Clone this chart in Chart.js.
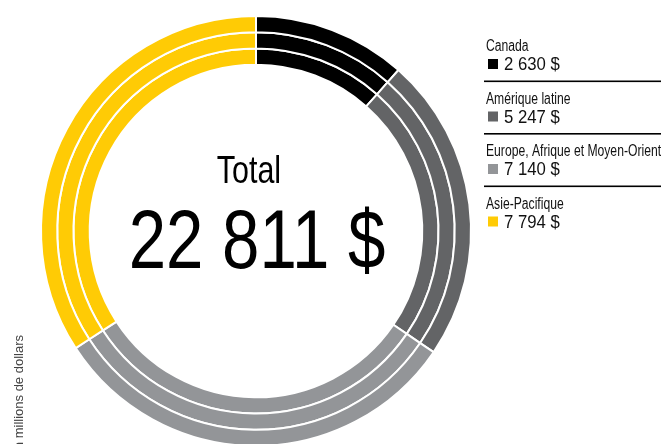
<!DOCTYPE html>
<html lang="fr">
<head>
    <meta charset="UTF-8">
    <title>Total par région</title>
    <script src="https://cdn.jsdelivr.net/npm/chart.js@4.4.1/dist/chart.umd.min.js"></script>
    <style>
        html, body { margin: 0; padding: 0; background: #fff; }
        #regionChart { display: block; }
    </style>
</head>
<body>
<canvas id="regionChart" width="661" height="444"></canvas>
<script>
    // données (en millions de dollars)
    var regions = ['Canada', 'Amérique latine', 'Europe, Afrique et Moyen-Orient', 'Asie-Pacifique'];
    var revenue = [2630, 5247, 7140, 7794];
    var totalLabel = 'Total';
    var unitNote = 'en millions de dollars';

    var sliceColors = ['#000000', '#636466', '#939598', '#ffcb05'];

    function fmt(n) {
        return String(n).replace(/\B(?=(\d{3})+(?!\d))/g, ' ') + ' $';
    }

    var total = revenue.reduce(function (a, b) { return a + b; }, 0);

    function condText(ctx, text, x, y, size, sx, align, color) {
        ctx.save();
        ctx.translate(x, y);
        ctx.scale(sx, 1);
        ctx.font = size + 'px "Liberation Sans", Arial, sans-serif';
        ctx.textAlign = align;
        ctx.textBaseline = 'alphabetic';
        ctx.fillStyle = color || '#000';
        ctx.fillText(text, 0, 0);
        ctx.restore();
    }

    var textPlugin = {
        id: 'textPlugin',
        afterDraw: function (chart) {
            var ctx = chart.ctx;
            // centre
            condText(ctx, totalLabel, 249, 183, 39, 0.78, 'center');
            condText(ctx, fmt(total), 257, 268, 83, 0.81, 'center');

            // légende
            for (var i = 0; i < regions.length; i++) {
                var base = 51 + i * 52.5;
                condText(ctx, regions[i], 486, base, 16, 0.76, 'left', '#111');
                ctx.fillStyle = sliceColors[i];
                ctx.fillRect(488, base + 8, 10, 10);
                condText(ctx, fmt(revenue[i]), 504, base + 19, 18, 0.93, 'left', '#111');
                if (i < regions.length - 1) {
                    ctx.fillStyle = '#000';
                    ctx.fillRect(484, base + 29.5, 177, 1.6);
                }
            }

            // note verticale
            ctx.save();
            ctx.translate(23, 335);
            ctx.rotate(-Math.PI / 2);
            ctx.font = '13px "Liberation Sans", Arial, sans-serif';
            ctx.textAlign = 'right';
            ctx.fillStyle = '#444';
            ctx.fillText(unitNote, 0, 0);
            ctx.restore();
        }
    };

    var rings = [0, 1, 2].map(function () {
        return {
            data: revenue,
            backgroundColor: sliceColors,
            borderColor: '#ffffff',
            borderWidth: 2,
            clip: false
        };
    });

    var ctx = document.getElementById('regionChart').getContext('2d');
    new Chart(ctx, {
        type: 'doughnut',
        data: {
            labels: regions,
            datasets: rings
        },
        options: {
            responsive: false,
            animation: false,
            events: [],
            radius: 215,
            cutout: 164,
            layout: { padding: { left: 0, right: 149, top: 18, bottom: 0 } },
            plugins: {
                legend: { display: false },
                tooltip: { enabled: false }
            }
        },
        plugins: [textPlugin]
    });
</script>
</body>
</html>
